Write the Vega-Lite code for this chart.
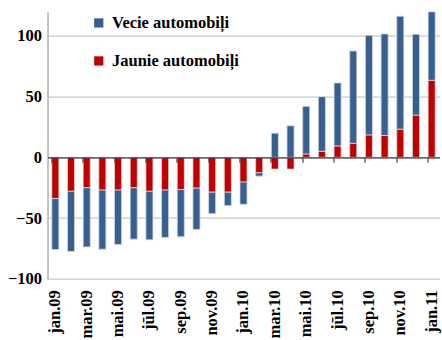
{
  "$schema": "https://vega.github.io/schema/vega-lite/v6.json",
  "autosize": "none",
  "width": 392,
  "height": 267,
  "padding": {"left": 47.5, "top": 11.7, "right": 3, "bottom": 61},
  "background": "white",
  "config": {"view": {"stroke": null}, "font": "Liberation Serif"},
  "data": {"values": [
    {"month": "jan.09", "type": "Jaunie automobiļi", "value": -34},
    {"month": "jan.09", "type": "Vecie automobiļi", "value": -42},
    {"month": "feb.09", "type": "Jaunie automobiļi", "value": -28},
    {"month": "feb.09", "type": "Vecie automobiļi", "value": -49.5},
    {"month": "mar.09", "type": "Jaunie automobiļi", "value": -25},
    {"month": "mar.09", "type": "Vecie automobiļi", "value": -48.8},
    {"month": "apr.09", "type": "Jaunie automobiļi", "value": -27},
    {"month": "apr.09", "type": "Vecie automobiļi", "value": -48.7},
    {"month": "mai.09", "type": "Jaunie automobiļi", "value": -27},
    {"month": "mai.09", "type": "Vecie automobiļi", "value": -44.8},
    {"month": "jūn.09", "type": "Jaunie automobiļi", "value": -25},
    {"month": "jūn.09", "type": "Vecie automobiļi", "value": -42.4},
    {"month": "jūl.09", "type": "Jaunie automobiļi", "value": -28},
    {"month": "jūl.09", "type": "Vecie automobiļi", "value": -40},
    {"month": "aug.09", "type": "Jaunie automobiļi", "value": -27},
    {"month": "aug.09", "type": "Vecie automobiļi", "value": -39},
    {"month": "sep.09", "type": "Jaunie automobiļi", "value": -26.5},
    {"month": "sep.09", "type": "Vecie automobiļi", "value": -39},
    {"month": "okt.09", "type": "Jaunie automobiļi", "value": -25.4},
    {"month": "okt.09", "type": "Vecie automobiļi", "value": -34},
    {"month": "nov.09", "type": "Jaunie automobiļi", "value": -28.7},
    {"month": "nov.09", "type": "Vecie automobiļi", "value": -17.7},
    {"month": "dec.09", "type": "Jaunie automobiļi", "value": -28.7},
    {"month": "dec.09", "type": "Vecie automobiļi", "value": -11.1},
    {"month": "jan.10", "type": "Jaunie automobiļi", "value": -20.4},
    {"month": "jan.10", "type": "Vecie automobiļi", "value": -18.3},
    {"month": "feb.10", "type": "Jaunie automobiļi", "value": -12.7},
    {"month": "feb.10", "type": "Vecie automobiļi", "value": -2.8},
    {"month": "mar.10", "type": "Jaunie automobiļi", "value": -9.7},
    {"month": "mar.10", "type": "Vecie automobiļi", "value": 19.9},
    {"month": "apr.10", "type": "Jaunie automobiļi", "value": -9.7},
    {"month": "apr.10", "type": "Vecie automobiļi", "value": 26},
    {"month": "mai.10", "type": "Jaunie automobiļi", "value": 2.8},
    {"month": "mai.10", "type": "Vecie automobiļi", "value": 39.2},
    {"month": "jūn.10", "type": "Jaunie automobiļi", "value": 5},
    {"month": "jūn.10", "type": "Vecie automobiļi", "value": 45},
    {"month": "jūl.10", "type": "Jaunie automobiļi", "value": 9.4},
    {"month": "jūl.10", "type": "Vecie automobiļi", "value": 51.9},
    {"month": "aug.10", "type": "Jaunie automobiļi", "value": 11.6},
    {"month": "aug.10", "type": "Vecie automobiļi", "value": 76},
    {"month": "sep.10", "type": "Jaunie automobiļi", "value": 18.5},
    {"month": "sep.10", "type": "Vecie automobiļi", "value": 82},
    {"month": "okt.10", "type": "Jaunie automobiļi", "value": 18},
    {"month": "okt.10", "type": "Vecie automobiļi", "value": 83.7},
    {"month": "nov.10", "type": "Jaunie automobiļi", "value": 23.2},
    {"month": "nov.10", "type": "Vecie automobiļi", "value": 93.1},
    {"month": "dec.10", "type": "Jaunie automobiļi", "value": 34.8},
    {"month": "dec.10", "type": "Vecie automobiļi", "value": 66.6},
    {"month": "jan.11", "type": "Jaunie automobiļi", "value": 63.5},
    {"month": "jan.11", "type": "Vecie automobiļi", "value": 56.5}
  ]},
  "resolve": {"axis": {"x": "independent"}},
  "layer": [
    {
      "mark": {"type": "bar", "stroke": "#d8d8d8", "strokeWidth": 0.8, "clip": true},
      "encoding": {
        "x": {
          "field": "month", "type": "ordinal", "sort": null,
          "scale": {"paddingInner": 0.55, "paddingOuter": 0.275},
          "axis": {
            "orient": "bottom", "title": null, "domain": false, "ticks": false,
            "values": ["jan.09", "mar.09", "mai.09", "jūl.09", "sep.09", "nov.09", "jan.10", "mar.10", "mai.10", "jūl.10", "sep.10", "nov.10", "jan.11"],
            "labelAngle": -90, "labelAlign": "right", "labelBaseline": "middle",
            "labelPadding": 11, "labelFont": "'Liberation Serif', serif", "labelFontSize": 16.5,
            "labelFontWeight": "bold", "labelColor": "#000000"
          }
        },
        "y": {
          "field": "value", "type": "quantitative", "stack": "zero",
          "scale": {"domain": [-100, 120], "nice": false, "zero": false},
          "axis": {
            "title": null, "values": [-100, -50, 0, 50, 100], "ticks": false,
            "grid": true, "gridColor": "#c8c8c8", "gridWidth": 1.2,
            "domainColor": "#b0b0b0", "domainWidth": 1.5,
            "labelFont": "'Liberation Serif', serif", "labelFontSize": 16.5, "labelFontWeight": "bold",
            "labelColor": "#000000", "labelPadding": 6
          }
        },
        "color": {
          "field": "type", "type": "nominal",
          "scale": {"domain": ["Vecie automobiļi", "Jaunie automobiļi"], "range": ["#376092", "#C00000"]},
          "legend": {
            "title": null, "orient": "none", "legendX": 43, "legendY": 3,
            "symbolType": "square", "symbolSize": 85, "symbolStrokeWidth": 0,
            "labelFont": "'Liberation Serif', serif", "labelFontSize": 16.5, "labelFontWeight": "bold",
            "labelColor": "#000000", "labelOffset": 5, "rowPadding": 21, "padding": 0
          }
        },
        "order": {"field": "type", "sort": "ascending"}
      }
    },
    {
      "mark": {"type": "rule", "opacity": 0},
      "encoding": {
        "x": {
          "field": "month", "type": "ordinal", "sort": null,
          "axis": {
            "orient": "bottom", "title": null, "offset": -121.4, "labels": false,
            "domain": true, "domainColor": "#404040", "domainWidth": 1.2,
            "ticks": true, "tickColor": "#404040", "tickSize": 5, "tickWidth": 1.2,
            "bandPosition": 0, "zindex": 1,
            "values": ["jan.09", "mar.09", "mai.09", "jūl.09", "sep.09", "nov.09", "jan.10", "mar.10", "mai.10", "jūl.10", "sep.10", "nov.10", "jan.11"]
          }
        },
        "y": {"datum": 0}
      }
    }
  ]
}
